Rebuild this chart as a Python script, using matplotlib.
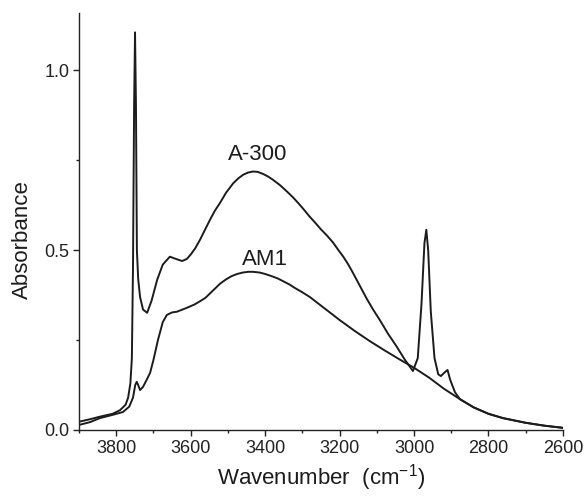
import matplotlib
matplotlib.use("Agg")
import matplotlib.pyplot as plt
from matplotlib.ticker import MultipleLocator

plt.rcParams['font.family'] = ['Liberation Sans', 'DejaVu Sans']

# A-300 spectrum (wavenumber, absorbance)
a300_x = [3900, 3870, 3844, 3810, 3790, 3775, 3768, 3762, 3758, 3755, 3752, 3749.5,
          3747, 3744.5, 3741, 3736, 3728, 3717, 3705, 3690, 3675, 3656, 3640, 3623,
          3610, 3600, 3588, 3575, 3562, 3548, 3535, 3521, 3505, 3486, 3472, 3459,
          3446, 3433, 3420, 3405, 3392, 3379, 3360, 3341, 3325, 3310, 3295, 3280,
          3265, 3250, 3234, 3218, 3205, 3190, 3177, 3164, 3145, 3127, 3110, 3092,
          3070, 3046, 3025, 3003, 2990, 2980, 2972, 2967, 2962, 2955, 2945, 2935,
          2928, 2918, 2910, 2903, 2890, 2877, 2840, 2800, 2761, 2700, 2650, 2600]
a300_y = [0.023, 0.030, 0.037, 0.045, 0.055, 0.070, 0.090, 0.130, 0.200, 0.450, 0.900, 1.106,
          0.900, 0.500, 0.420, 0.370, 0.335, 0.326, 0.360, 0.418, 0.460, 0.482, 0.476, 0.470,
          0.476, 0.488, 0.505, 0.529, 0.556, 0.585, 0.610, 0.632, 0.660, 0.686, 0.700, 0.710,
          0.716, 0.719, 0.718, 0.712, 0.705, 0.696, 0.681, 0.663, 0.647, 0.630, 0.612, 0.593,
          0.576, 0.558, 0.541, 0.522, 0.503, 0.482, 0.461, 0.437, 0.400, 0.365, 0.335, 0.306,
          0.268, 0.231, 0.196, 0.164, 0.200, 0.350, 0.520, 0.557, 0.500, 0.330, 0.200, 0.155,
          0.150, 0.160, 0.167, 0.140, 0.105, 0.086, 0.063, 0.045, 0.033, 0.020, 0.012, 0.006]

# AM1 spectrum
am1_x = [3900, 3870, 3844, 3810, 3782, 3765, 3755, 3749, 3745, 3741, 3736, 3728,
         3718, 3709, 3700, 3688, 3675, 3664, 3650, 3637, 3610, 3590, 3575, 3560,
         3550, 3535, 3521, 3505, 3490, 3475, 3460, 3445, 3433, 3415, 3400, 3380,
         3365, 3352, 3335, 3320, 3300, 3280, 3240, 3200, 3160, 3120, 3080, 3040,
         3000, 2960, 2920, 2877, 2840, 2800, 2761, 2700, 2650, 2600]
am1_y = [0.014, 0.022, 0.033, 0.042, 0.050, 0.065, 0.090, 0.125, 0.134, 0.125, 0.111, 0.120,
         0.140, 0.159, 0.195, 0.250, 0.300, 0.320, 0.327, 0.329, 0.340, 0.349, 0.358, 0.368,
         0.378, 0.393, 0.407, 0.419, 0.428, 0.434, 0.438, 0.440, 0.440, 0.438, 0.434, 0.427,
         0.421, 0.414, 0.405, 0.395, 0.383, 0.370, 0.338, 0.306, 0.276, 0.248, 0.222, 0.197,
         0.173, 0.146, 0.115, 0.086, 0.063, 0.045, 0.033, 0.020, 0.012, 0.006]

labels = ["A-300", "AM1"]
label_pos = [(3419, 0.766), (3400, 0.474)]

fig = plt.figure(figsize=(5.87, 4.99), dpi=100)
ax = fig.add_axes([0.1346, 0.1383, 0.959 - 0.1346, 0.974 - 0.1383])

line_color = '#1c1c1c'
ax.plot(a300_x, a300_y, color=line_color, lw=1.4)
ax.plot(am1_x, am1_y, color=line_color, lw=1.4)

for lab, (lx, ly) in zip(labels, label_pos):
    ax.text(lx, ly, lab, fontsize=16, ha='center', va='center', color='#1c1c1c')

ax.set_xlim(3900, 2600)
ax.set_ylim(0, 1.16)
ax.xaxis.set_major_locator(MultipleLocator(200))
ax.xaxis.set_minor_locator(MultipleLocator(100))
ax.yaxis.set_major_locator(MultipleLocator(0.5))
ax.yaxis.set_minor_locator(MultipleLocator(0.25))
ax.yaxis.set_major_formatter(plt.FuncFormatter(lambda v, p: f"{v:.1f}"))

for s in ['top', 'right']:
    ax.spines[s].set_visible(False)
for s in ['left', 'bottom']:
    ax.spines[s].set_linewidth(1.0)
    ax.spines[s].set_color('#222222')

ax.tick_params(axis='both', which='major', direction='out', length=4, width=1,
               labelsize=13, colors='#222222', pad=3)
ax.tick_params(axis='both', which='minor', direction='out', length=2.5, width=1, colors='#222222')

ax.set_xlabel("Wavenumber  (cm$^{\\mathregular{-1}}$)", fontsize=16, color='#1c1c1c', labelpad=4)
ax.set_ylabel("Absorbance", fontsize=16, color='#1c1c1c')
ax.yaxis.set_label_coords(-0.095, 0.456)

fig.savefig("out.png", dpi=100)
